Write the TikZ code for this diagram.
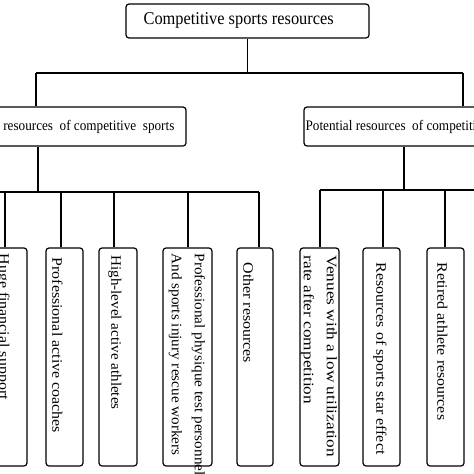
\documentclass[tikz,border=0pt]{standalone}
\usepackage{fontspec}
\setmainfont{Liberation Serif}
\newcommand\hsq[1]{\scalebox{0.91}[1]{#1}}
\newcommand\vst[2][1.1]{\scalebox{#1}[1]{\begin{tabular}{@{}l@{}}#2\end{tabular}}}
\begin{document}
\begin{tikzpicture}[x=1pt,y=-1pt,line width=1.2pt,
  box/.style={draw,rounded corners=3pt,inner sep=0pt},
  midtext/.style={inner sep=0pt,font=\fontsize{14.5}{17}\selectfont},
  vtext/.style={rotate=-90,anchor=west,inner sep=0pt,font=\fontsize{14.5}{23}\selectfont}]
\path[use as bounding box,clip] (0,0) rectangle (474,474);
% top
\node[box,minimum width=243pt,minimum height=34pt] (top) at (247.5,21) {};
\node[inner sep=0pt,anchor=west,font=\fontsize{18}{20}\selectfont] (toptext) at (143,20) {\hsq{Competitive sports resources}};
\coordinate (topbus) at (top.south |- 0,73);
\coordinate (busL) at (36,73);
\coordinate (busR) at (463,73);
% mid boxes
\node[box,minimum width=246pt,minimum height=39pt] (L) at (63,126.5) {};
\node[midtext,anchor=east] (Ltext) at (175,127) {\hsq{resources\ \ of competitive\ \ sports}};
\node[box,minimum width=240pt,minimum height=39pt] (R) at (424,126.5) {};
\node[midtext,anchor=west] (Rtext) at (305,127) {\hsq{Potential resources\ \ of competitive sports}};
\draw (top.south) -- (topbus);
\draw (busL) -- (busR);
\draw (busL) -- (busL |- L.north);
\draw (busR) -- (busR |- R.north);
% leaves
\foreach \n/\l/\r in {b1/-10/27,b2/46/83,b3/99/137,b4/163/212,b5/237/273,b6/300/339,b7/363/400,b8/427/464}{
  \pgfmathsetmacro\w{\r-\l}
  \pgfmathsetmacro\c{(\r+\l)/2}
  \node[box,minimum width=\w pt,minimum height=218pt] (\n) at (\c,357) {};
}
\node[vtext] (t1) at (4,253) {\vst{Huge financial support}};
\node[vtext] (t2) at (57,257) {\vst{Professional active coaches}};
\node[vtext] (t3) at (116,255) {\vst[1.04]{High-level active athletes}};
\node[vtext] (t4) at (188,253) {\vst[1.05]{Professional physique test personnel\\And sports injury rescue workers}};
\node[vtext] (t5) at (248,262) {\vst{Other resources}};
\node[vtext] (t6) at (320,255) {\vst[1.19]{Venues with a low utilization\\rate after competition}};
\node[vtext] (t7) at (381,262) {\vst{Resources of sports star effect}};
\node[vtext] (t8) at (442,262) {\vst{Retired athlete resources}};
% left bus
\coordinate (lb0) at (0,192);
\coordinate (lb1) at (259,192);
\coordinate (lstem) at (38,192);
\draw (L.south -| lstem) -- (lstem);
\draw (lb0) -- (lb1);
\foreach \n/\x in {b1/5,b2/61,b3/114,b4/188,b5/259}{
  \coordinate (c\n) at (\x,192);
  \draw (c\n) -- (c\n |- \n.north);
}
% right bus
\coordinate (rb0) at (320,190);
\coordinate (rb1) at (474,190);
\coordinate (rstem) at (404,190);
\draw (R.south -| rstem) -- (rstem);
\draw (rb0) -- (rb1);
\foreach \n/\x in {b6/320,b7/383,b8/445}{
  \coordinate (c\n) at (\x,190);
  \draw (c\n) -- (c\n |- \n.north);
}
\end{tikzpicture}
\end{document}
